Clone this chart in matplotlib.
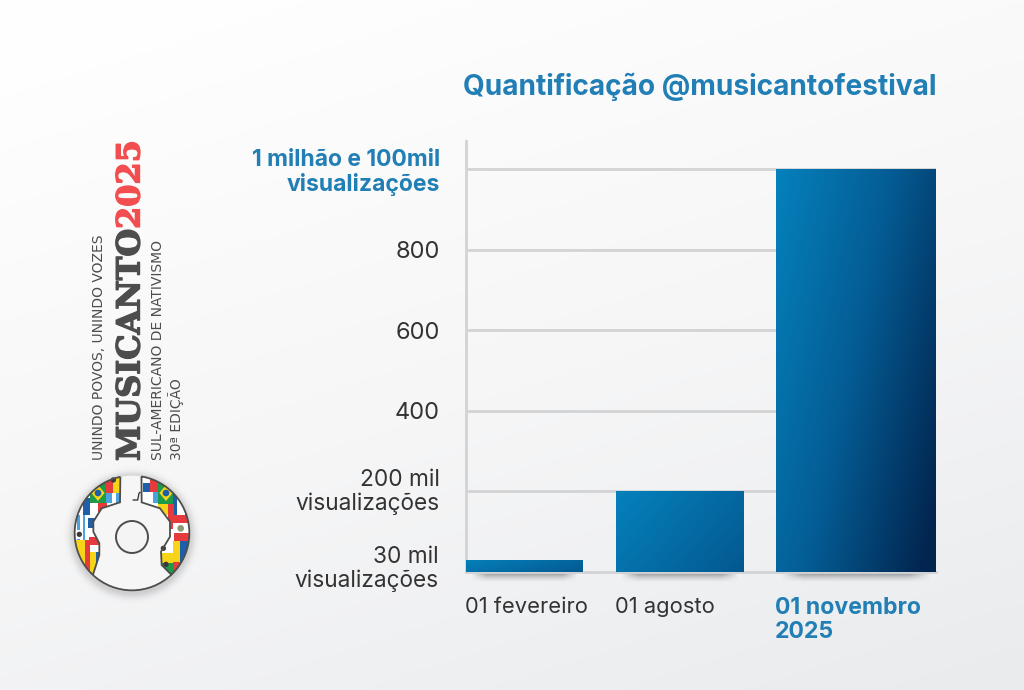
import numpy as np
import matplotlib
matplotlib.use("Agg")
import matplotlib.pyplot as plt
import matplotlib.patheffects as pe
from matplotlib.colors import LinearSegmentedColormap
from matplotlib.patches import Arc, Circle, PathPatch, Polygon, Rectangle
from matplotlib.path import Path
from matplotlib.transforms import ScaledTranslation

plt.rcParams["font.family"] = ["Inter", "DejaVu Sans"]

# data
categories = ["01 fevereiro", "01 agosto", "01 novembro\n2025"]
values = [30, 200, 1000]
tick_values = [200, 400, 600, 800, 1000]
tick_labels = ["200 mil\nvisualizações", "400", "600", "800", "1 milhão e 100mil\nvisualizações"]
low_label = "30 mil\nvisualizações"
title = "Quantificação @musicantofestival"

# layout (x in pixels from the axis line)
bar_left = [0, 150, 310]
bar_width = [117, 128, 160]
bar_tmax = [0.55, 0.55, 1.05]

BLUE = "#217fb5"
DARK = "#333333"
GRID = "#d2d3d4"
LOGO_GRAY = "#4d4d4d"
bar_cmap = LinearSegmentedColormap.from_list("bar", ["#0581bc", "#045c94", "#02254f"])

fig = plt.figure(figsize=(10.24, 6.9), dpi=100)

# background and overlay in pixel coords
bg = fig.add_axes([0, 0, 1, 1], zorder=0)
yy, xx = np.mgrid[0:1:200j, 0:1:200j]
shade = np.clip(0.35 * xx + 0.75 * yy - 0.1, 0, 1)
bg_cmap = LinearSegmentedColormap.from_list("bg", ["#fefefe", "#f6f6f7", "#e9ebed"])
bg.imshow(shade, cmap=bg_cmap, extent=(0, 1024, 690, 0), aspect="auto", vmin=0, vmax=1)
bg.axis("off")


def shadow(ax, x0, x1, y0, y1):
    h, w = np.mgrid[0:1:40j, 0:1:200j]
    a = np.clip(np.minimum(w, 1 - w) * 7, 0, 1) * (1 - h) ** 1.6 * 0.5
    rgba = np.zeros((40, 200, 4))
    rgba[..., :3] = 0.25
    rgba[..., 3] = a
    ax.imshow(rgba, extent=(x0, x1, y1, y0), aspect="auto", interpolation="bilinear")


for left, width in zip(bar_left, bar_width):
    shadow(bg, 466 + left + 5, 466 + left + width - 5, 573, 583)
bg.set_xlim(0, 1024)
bg.set_ylim(690, 0)

# main chart
ax = fig.add_axes([466 / 1024, 1 - 572 / 690, 470 / 1024, 431 / 690], zorder=1)
ax.patch.set_alpha(0)
ax.set_axisbelow(True)
for side in ["top", "right"]:
    ax.spines[side].set_visible(False)
for side in ["left", "bottom"]:
    ax.spines[side].set_color(GRID)
    ax.spines[side].set_linewidth(2)
ax.grid(axis="y", color=GRID, linewidth=2)

bars = ax.bar(bar_left, values, width=bar_width, align="edge", color="none", zorder=3)
for bar, tmax in zip(bars, bar_tmax):
    gy, gx = np.mgrid[0:1:100j, 0:1:100j]
    grad = (0.65 * gx + 0.35 * gy) * tmax
    x0, y0 = bar.get_x(), bar.get_y()
    im = ax.imshow(grad, cmap=bar_cmap, vmin=0, vmax=1, aspect="auto", zorder=3,
                   extent=(x0, x0 + bar.get_width(), y0, y0 + bar.get_height()), origin="upper")
    im.set_clip_path(bar)
ax.set_xlim(0, 470)
ax.set_ylim(0, 431 / 0.403)

ax.set_yticks(tick_values)
ax.set_yticklabels(tick_labels, fontsize=16.3, color=DARK, linespacing=1.09, ha="right")
ax.tick_params(axis="y", length=0, pad=18.8)
ax.set_xticks([])
labels = ax.get_yticklabels()
labels[-1].set_color(BLUE)
labels[-1].set_fontweight("bold")
labels[-1].set_fontsize(16.5)
for lab in labels[1:4]:
    lab.set_fontsize(17)
labels[0].set_transform(labels[0].get_transform() + ScaledTranslation(0, 2 / 72, fig.dpi_scale_trans))

ax.text(-27, 8, low_label, ha="right", va="center", fontsize=16.3, color=DARK, linespacing=1.09, clip_on=False)
for i, (left, cat) in enumerate(zip(bar_left, categories)):
    last = i == 2
    ax.text(left - 1, -62, cat, ha="left", va="top", fontsize=16.6 if last else 15.8, linespacing=1.1,
            color=BLUE if last else DARK, fontweight="bold" if last else "normal", clip_on=False)

fig.text(463 / 1024, 1 - 87 / 690, title, fontsize=20.2, fontweight="bold", color=BLUE, va="center", ha="left")

# brand block on the left
top = fig.add_axes([0, 0, 1, 1], zorder=2)
top.axis("off")
small_font = ["DejaVu Sans"]
top.text(99, 460, "UNINDO POVOS, UNINDO VOZES", rotation=90, fontsize=10, color=LOGO_GRAY,
         ha="center", va="bottom", family=small_font)
top.text(131, 461, "MUSICANTO", rotation=90, fontsize=23, color=LOGO_GRAY, fontweight="bold",
         ha="center", va="bottom", family=["DejaVu Serif"],
         path_effects=[pe.withStroke(linewidth=1.0, foreground=LOGO_GRAY)])
top.text(131, 229, "2025", rotation=90, fontsize=23, color="#f24e50", fontweight="bold",
         ha="center", va="bottom", family=["DejaVu Serif"],
         path_effects=[pe.withStroke(linewidth=1.0, foreground="#f24e50")])
top.text(158, 460, "SUL-AMERICANO DE NATIVISMO", rotation=90, fontsize=10, color=LOGO_GRAY,
         ha="center", va="bottom", family=small_font)
top.text(176, 460, "30ª EDIÇÃO", rotation=90, fontsize=10, color=LOGO_GRAY,
         ha="center", va="bottom", family=small_font)


def zx(x):
    return 60 + x / 3


def zy(y):
    return 465 + y / 3


# soft shadow of the logo, outside the ring only
g = np.linspace(-1, 1, 200)
gx, gy = np.meshgrid(g, g)
r = np.hypot(gx, gy)
rgba = np.zeros((200, 200, 4))
rgba[..., :3] = 0.3
rgba[..., 3] = np.exp(-(np.clip(r - 0.78, 0, None) / 0.08) ** 2) * 0.22 * (r > 0.74)
top.imshow(rgba, extent=(zx(216) - 74, zx(216) + 74, zy(204) + 76, zy(204) - 72), aspect="auto")
top.set_xlim(0, 1024)
top.set_ylim(690, 0)

cx, cy, rad = 216, 204, 172
# ylim is inverted, so the arc runs between the mirrored angles
top.add_patch(Arc((zx(cx), zy(cy)), 2 * rad / 3, 2 * rad / 3, theta1=46.7, theta2=133, ec=LOGO_GRAY, lw=1.3, zorder=2))
top.add_patch(Circle((zx(cx), zy(cy)), rad / 3, fc="#f6f6f6", ec="none", zorder=1.5))
top.add_patch(Circle((zx(216), zy(216)), 48 / 3, fc="#f4f4f4", ec=LOGO_GRAY, lw=1.4, zorder=2.2))


def lobe(a0, a1, inner):
    ang = np.radians(np.linspace(a0, a1, 40))
    pts = [(zx(cx + rad * np.cos(t)), zy(cy - rad * np.sin(t))) for t in ang]
    pts += [(zx(a), zy(b)) for a, b in inner]
    pts.append(pts[0])
    return Path(pts)


left_lobe = lobe(101.7, 227, [(118, 270), (118, 235), (100, 200), (100, 170), (125, 130), (180, 112)])
right_lobe = lobe(80.5, -46.7, [(305, 300), (303, 260), (330, 215), (330, 170), (300, 130), (245, 112)])

R, Y, G, B, W, K, L = "#e63a3c", "#f7d417", "#1f9a49", "#1d5fa8", "#ffffff", "#3a3a3a", "#4aa3df"
left_flags = [
    (130, 20, 160, 85, R), (160, 20, 185, 85, Y), (138, 85, 180, 115, L), (155, 85, 168, 115, W),
    (90, 50, 138, 118, G), (40, 100, 90, 150, W), (70, 100, 90, 150, B), (90, 115, 115, 160, W),
    (115, 115, 140, 140, R), (40, 150, 88, 225, W), (52, 150, 60, 225, L), (68, 150, 76, 225, L),
    (85, 160, 110, 190, B), (88, 190, 125, 215, W), (88, 215, 125, 240, R), (88, 240, 125, 262, W),
    (40, 225, 75, 330, Y), (75, 225, 90, 330, R), (90, 262, 108, 330, Y), (108, 262, 125, 330, B),
    (40, 195, 70, 222, W),
]
right_flags = [
    (245, 25, 270, 55, W), (270, 25, 295, 80, R), (248, 55, 270, 80, B), (245, 80, 280, 115, W),
    (280, 80, 295, 115, L), (295, 55, 340, 118, G), (340, 80, 395, 150, B), (352, 100, 375, 150, W),
    (295, 118, 325, 150, Y), (325, 118, 342, 192, R), (340, 150, 395, 175, R), (340, 175, 395, 205, W),
    (340, 205, 395, 228, R), (325, 192, 342, 260, W), (300, 225, 325, 265, W), (340, 228, 360, 330, Y),
    (360, 228, 395, 290, B), (340, 290, 360, 330, R), (300, 265, 340, 295, Y), (300, 295, 342, 340, G),
]
for path, flags in [(left_lobe, left_flags), (right_lobe, right_flags)]:
    outline = PathPatch(path, fc="white", ec="none", zorder=3)
    top.add_patch(outline)
    for x0, y0, x1, y1, c in flags:
        rect = Rectangle((zx(x0), zy(y0)), (x1 - x0) / 3, (y1 - y0) / 3, fc=c, ec="none", zorder=3.1)
        top.add_patch(rect)
        rect.set_clip_path(outline)
    top.add_patch(PathPatch(path, fc="none", ec=LOGO_GRAY, lw=1.3, zorder=3.5))

# brazil diamonds and small crests
for bx, by in [(114, 84), (318, 84)]:
    top.add_patch(Polygon([(zx(bx - 20), zy(by)), (zx(bx), zy(by - 24)), (zx(bx + 20), zy(by)), (zx(bx), zy(by + 24))],
                          fc=Y, ec="none", zorder=3.2))
    top.add_patch(Circle((zx(bx), zy(by)), 10 / 3, fc=B, ec="none", zorder=3.3))
for bx, by in [(160, 45), (58, 208), (318, 298), (310, 250)]:
    top.add_patch(Circle((zx(bx), zy(by)), 8 / 3, fc=K, ec="none", zorder=3.3))
top.add_patch(Circle((zx(362), zy(190)), 10 / 3, fc="#8a9a70", ec="none", zorder=3.3))
top.plot([zx(220), zx(233), zx(237), zx(240)], [zy(105), zy(105), zy(85), zy(82)], color=K, lw=1, zorder=3.4)

fig.savefig("out.png", dpi=100)
